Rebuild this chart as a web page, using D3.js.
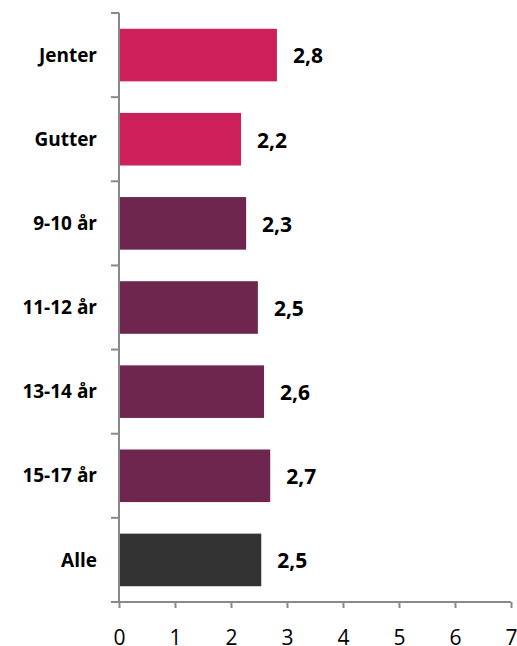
<!DOCTYPE html>
<html>
<head>
<meta charset="utf-8">
<script src="https://d3js.org/d3.v7.min.js"></script>
<style>
  body { margin: 0; background: #fff; }
  text { font-family: "Open Sans", sans-serif; }
</style>
</head>
<body>
<div id="chart"></div>
<script>
// data
var categories = ["Jenter", "Gutter", "9-10 år", "11-12 år", "13-14 år", "15-17 år", "Alle"];
var values = [2.82, 2.18, 2.27, 2.48, 2.59, 2.70, 2.54];
var valueLabels = ["2,8", "2,2", "2,3", "2,5", "2,6", "2,7", "2,5"];
var groups = ["kjonn", "kjonn", "alder", "alder", "alder", "alder", "alle"];
var xTicks = [0, 1, 2, 3, 4, 5, 6, 7];

var colors = {kjonn: "#cd1f5a", alder: "#6e264f", alle: "#333333"};

var margin = {top: 13, right: 7, bottom: 44, left: 119},
    width = 517 - margin.left - margin.right,
    height = 646 - margin.top - margin.bottom;

var svg = d3.select("#chart")
  .append("svg")
  .attr("width", 517)
  .attr("height", 646)
  .append("g")
  .attr("transform", "translate(" + margin.left + "," + margin.top + ")");

var x = d3.scaleLinear().domain([0, 7]).range([0, 56 * 7]);

var y = d3.scaleBand()
  .domain(categories)
  .range([0, height])
  .paddingInner(0.375)
  .paddingOuter(0.1875);

// bars
svg.append("g")
  .selectAll("rect")
  .data(categories)
  .enter()
  .append("rect")
    .attr("x", x(0))
    .attr("y", function(d) { return y(d); })
    .attr("width", function(d, i) { return x(values[i]) - x(0); })
    .attr("height", y.bandwidth())
    .style("fill", function(d, i) { return colors[groups[i]]; });

// value labels
svg.append("g")
  .selectAll("text")
  .data(categories)
  .enter()
  .append("text")
    .attr("x", function(d, i) { return x(values[i]) + 16; })
    .attr("y", function(d) { return y(d) + y.bandwidth() / 2 + 1; })
    .attr("dy", "0.35em")
    .attr("font-size", "21px")
    .attr("font-weight", "bold")
    .attr("fill", "#000")
    .text(function(d, i) { return valueLabels[i]; });

// category labels
svg.append("g")
  .selectAll("text")
  .data(categories)
  .enter()
  .append("text")
    .attr("x", -22)
    .attr("y", function(d) { return y(d) + y.bandwidth() / 2; })
    .attr("dy", "0.35em")
    .attr("text-anchor", "end")
    .attr("font-size", "19px")
    .attr("font-weight", "bold")
    .attr("fill", "#000")
    .text(function(d) { return d; });

var axisColor = "#898989";

// y axis line with ticks on the band edges
var edges = categories.map(function(d) { return y(d) - y.step() * y.paddingInner() / 2; });
edges.push(height);
svg.append("line")
  .attr("x1", 0).attr("x2", 0)
  .attr("y1", 0).attr("y2", height)
  .attr("stroke", axisColor).attr("stroke-width", 2);
svg.append("g")
  .selectAll("line")
  .data(edges)
  .enter()
  .append("line")
    .attr("x1", -8).attr("x2", 0)
    .attr("y1", function(d) { return d; })
    .attr("y2", function(d) { return d; })
    .attr("stroke", axisColor).attr("stroke-width", 2);

// x axis
var xAxis = svg.append("g")
  .attr("transform", "translate(0," + height + ")")
  .call(d3.axisBottom(x).tickValues(xTicks).tickFormat(d3.format("d"))
    .tickSize(6).tickPadding(22).tickSizeOuter(0));
xAxis.select(".domain")
  .attr("d", "M-8,0H" + x(7))
  .attr("stroke", axisColor).attr("stroke-width", 2);
xAxis.selectAll(".tick line").attr("stroke", axisColor).attr("stroke-width", 2);
xAxis.selectAll(".tick text")
  .attr("font-size", "21px")
  .attr("font-family", "Open Sans, sans-serif")
  .attr("fill", "#000");
</script>
</body>
</html>
